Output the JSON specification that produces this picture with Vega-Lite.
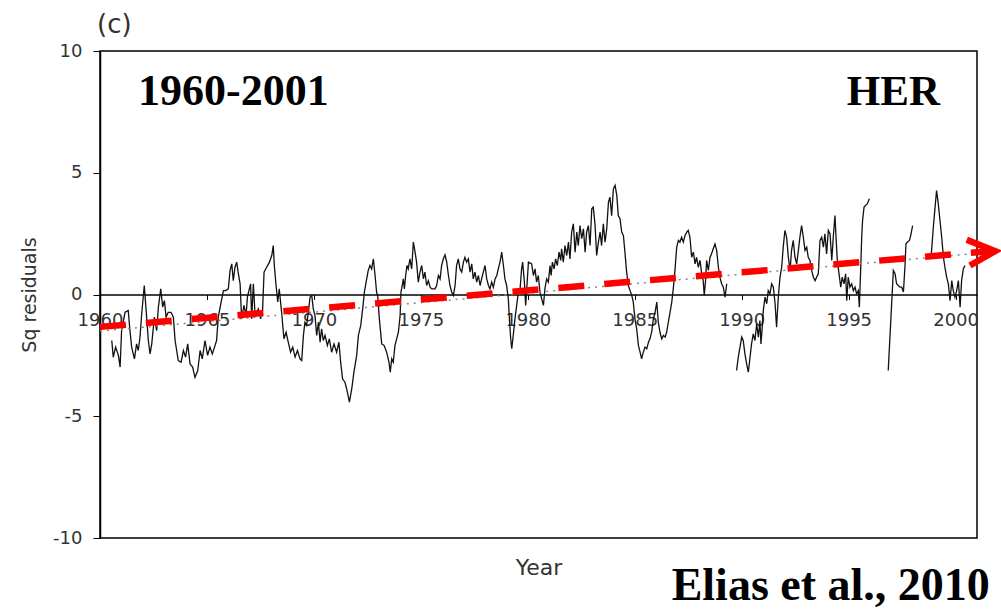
{
 "$schema": "https://vega.github.io/schema/vega-lite/v6.json",
 "width": 877, "height": 487,
 "autosize": "none",
 "padding": {"left": 100, "top": 51, "right": 24, "bottom": 72},
 "background": "white",
 "title": {"text": "(c)", "anchor": "start", "frame": "group", "offset": 4, "font": "DejaVu Sans", "fontSize": 26, "fontWeight": "normal", "color": "#333", "dx": -3},
 "config": {"view": {"stroke": "black", "strokeWidth": 1.5}, "axis": {"grid": false, "labelFont": "DejaVu Sans", "titleFont": "DejaVu Sans"}},
 "datasets": {
  "series": [
{"t":1960.55,"v":-1.89,"s":1},{"t":1960.62,"v":-2.57,"s":1},{"t":1960.73,"v":-2.16,"s":1},{"t":1960.86,"v":-2.5,"s":1},{"t":1960.94,"v":-2.98,"s":1},{"t":1961.01,"v":-1.48,"s":1},{"t":1961.17,"v":-0.73,"s":1},{"t":1961.32,"v":-0.66,"s":1},{"t":1961.40,"v":-1.48,"s":1},{"t":1961.48,"v":-2.16,"s":1},{"t":1961.61,"v":-2.64,"s":1},{"t":1961.71,"v":-2.03,"s":1},{"t":1961.79,"v":-2.3,"s":1},{"t":1961.87,"v":-1.75,"s":1},{"t":1961.95,"v":-0.79,"s":1},{"t":1962.07,"v":0.37,"s":1},{"t":1962.18,"v":-0.93,"s":1},{"t":1962.26,"v":-1.89,"s":1},{"t":1962.34,"v":-2.44,"s":1},{"t":1962.42,"v":-2.03,"s":1},{"t":1962.54,"v":-0.93,"s":1},{"t":1962.65,"v":-1.48,"s":1},{"t":1962.73,"v":-0.52,"s":1},{"t":1962.84,"v":0.23,"s":1},{"t":1962.93,"v":-0.52,"s":1},{"t":1963.01,"v":-0.25,"s":1},{"t":1963.09,"v":-0.93,"s":1},{"t":1963.19,"v":-0.73,"s":1},{"t":1963.32,"v":-0.73,"s":1},{"t":1963.43,"v":-0.93,"s":1},{"t":1963.51,"v":-1.89,"s":1},{"t":1963.66,"v":-2.71,"s":1},{"t":1963.79,"v":-2.78,"s":1},{"t":1963.90,"v":-2.3,"s":1},{"t":1964.00,"v":-2.57,"s":1},{"t":1964.10,"v":-2.03,"s":1},{"t":1964.21,"v":-2.85,"s":1},{"t":1964.33,"v":-2.98,"s":1},{"t":1964.44,"v":-3.4,"s":1},{"t":1964.57,"v":-3.12,"s":1},{"t":1964.68,"v":-2.3,"s":1},{"t":1964.78,"v":-2.64,"s":1},{"t":1964.91,"v":-1.89,"s":1},{"t":1965.03,"v":-2.5,"s":1},{"t":1965.14,"v":-2.16,"s":1},{"t":1965.25,"v":-2.44,"s":1},{"t":1965.38,"v":-2.09,"s":1},{"t":1965.45,"v":-1.89,"s":1},{"t":1965.53,"v":-0.93,"s":1},{"t":1965.66,"v":-0.32,"s":1},{"t":1965.77,"v":0.16,"s":1},{"t":1965.88,"v":0.16,"s":1},{"t":1966.00,"v":0.23,"s":1},{"t":1966.08,"v":0.99,"s":1},{"t":1966.16,"v":1.26,"s":1},{"t":1966.23,"v":0.57,"s":1},{"t":1966.31,"v":1.12,"s":1},{"t":1966.39,"v":1.33,"s":1},{"t":1966.47,"v":0.85,"s":1},{"t":1966.55,"v":0.44,"s":1},
{"t":1966.62,"v":-1.0,"s":1},{"t":1966.73,"v":-0.45,"s":1},{"t":1966.83,"v":-0.86,"s":1},{"t":1966.89,"v":-0.11,"s":1},{"t":1967.04,"v":0.44,"s":1},{"t":1967.09,"v":-1.0,"s":1},{"t":1967.17,"v":0.44,"s":1},{"t":1967.25,"v":-0.86,"s":1},{"t":1967.40,"v":-0.59,"s":1},{"t":1967.51,"v":-1.0,"s":1},{"t":1967.60,"v":-0.66,"s":1},{"t":1967.67,"v":0.92,"s":1},{"t":1967.79,"v":1.12,"s":1},{"t":1967.92,"v":1.33,"s":1},{"t":1968.03,"v":1.6,"s":1},{"t":1968.10,"v":2.01,"s":1},{"t":1968.15,"v":1.19,"s":1},{"t":1968.23,"v":0.37,"s":1},{"t":1968.31,"v":-0.31,"s":1},{"t":1968.38,"v":0.23,"s":1},{"t":1968.49,"v":-0.73,"s":1},{"t":1968.60,"v":-1.82,"s":1},{"t":1968.70,"v":-1.55,"s":1},{"t":1968.80,"v":-1.96,"s":1},{"t":1968.91,"v":-2.37,"s":1},{"t":1969.01,"v":-2.16,"s":1},{"t":1969.12,"v":-2.57,"s":1},{"t":1969.23,"v":-2.3,"s":1},{"t":1969.35,"v":-2.64,"s":1},{"t":1969.43,"v":-2.71,"s":1},{"t":1969.51,"v":-1.68,"s":1},{"t":1969.58,"v":-1.14,"s":1},{"t":1969.66,"v":-1.27,"s":1},{"t":1969.74,"v":-0.73,"s":1},{"t":1969.82,"v":-0.11,"s":1},{"t":1969.90,"v":-0.04,"s":1},{"t":1969.97,"v":-0.59,"s":1},{"t":1970.05,"v":-0.86,"s":1},{"t":1970.13,"v":-1.68,"s":1},{"t":1970.21,"v":-1.14,"s":1},{"t":1970.29,"v":-1.96,"s":1},{"t":1970.36,"v":-1.41,"s":1},{"t":1970.44,"v":-1.89,"s":1},{"t":1970.52,"v":-1.68,"s":1},{"t":1970.63,"v":-2.09,"s":1},{"t":1970.72,"v":-1.82,"s":1},{"t":1970.83,"v":-2.37,"s":1},{"t":1970.94,"v":-2.03,"s":1},{"t":1971.06,"v":-2.37,"s":1},{"t":1971.17,"v":-1.96,"s":1},{"t":1971.25,"v":-2.78,"s":1},{"t":1971.34,"v":-3.46,"s":1},{"t":1971.45,"v":-3.6,"s":1},{"t":1971.53,"v":-3.87,"s":1},{"t":1971.66,"v":-4.42,"s":1},{"t":1971.77,"v":-3.87,"s":1},{"t":1971.87,"v":-3.19,"s":1},{"t":1972.00,"v":-2.5,"s":1},{"t":1972.08,"v":-1.68,"s":1},{"t":1972.19,"v":-1.27,"s":1},{"t":1972.28,"v":-0.59,"s":1},{"t":1972.36,"v":0.1,"s":1},{"t":1972.44,"v":0.51,"s":1},{"t":1972.54,"v":0.99,"s":1},{"t":1972.62,"v":1.19,"s":1},{"t":1972.70,"v":1.05,"s":1},{"t":1972.78,"v":1.46,"s":1},{"t":1972.86,"v":0.78,"s":1},{"t":1972.93,"v":0.1,"s":1},{"t":1972.98,"v":-0.04,"s":1},{"t":1973.06,"v":-1.0,"s":1},{"t":1973.17,"v":-2.03,"s":1},{"t":1973.28,"v":-2.09,"s":1},
{"t":1973.40,"v":-2.37,"s":1},{"t":1973.51,"v":-2.78,"s":1},{"t":1973.57,"v":-3.19,"s":1},{"t":1973.64,"v":-2.64,"s":1},{"t":1973.71,"v":-2.78,"s":1},{"t":1973.79,"v":-2.09,"s":1},{"t":1973.87,"v":-1.82,"s":1},{"t":1973.95,"v":-1.55,"s":1},{"t":1974.03,"v":-0.86,"s":1},{"t":1974.07,"v":0.1,"s":1},{"t":1974.13,"v":0.37,"s":1},{"t":1974.18,"v":0.64,"s":1},{"t":1974.23,"v":0.23,"s":1},{"t":1974.29,"v":0.78,"s":1},{"t":1974.35,"v":1.19,"s":1},{"t":1974.41,"v":1.05,"s":1},{"t":1974.49,"v":1.46,"s":1},{"t":1974.57,"v":1.05,"s":1},{"t":1974.65,"v":2.15,"s":1},{"t":1974.73,"v":1.74,"s":1},{"t":1974.80,"v":1.33,"s":1},{"t":1974.88,"v":0.51,"s":1},{"t":1974.96,"v":0.92,"s":1},{"t":1975.04,"v":1.19,"s":1},{"t":1975.12,"v":0.64,"s":1},{"t":1975.19,"v":0.92,"s":1},{"t":1975.27,"v":0.37,"s":1},{"t":1975.35,"v":0.57,"s":1},{"t":1975.43,"v":0.3,"s":1},{"t":1975.51,"v":0.23,"s":1},{"t":1975.66,"v":0.23,"s":1},{"t":1975.74,"v":0.37,"s":1},{"t":1975.82,"v":0.78,"s":1},{"t":1975.90,"v":0.64,"s":1},{"t":1975.97,"v":1.19,"s":1},{"t":1976.05,"v":1.46,"s":1},{"t":1976.13,"v":1.63,"s":1},{"t":1976.21,"v":1.33,"s":1},{"t":1976.29,"v":0.78,"s":1},{"t":1976.36,"v":0.37,"s":1},{"t":1976.44,"v":0.1,"s":1},{"t":1976.52,"v":-0.04,"s":1},{"t":1976.60,"v":0.37,"s":1},{"t":1976.67,"v":1.19,"s":1},{"t":1976.75,"v":1.46,"s":1},{"t":1976.83,"v":1.05,"s":1},{"t":1976.91,"v":0.92,"s":1},{"t":1976.99,"v":1.33,"s":1},{"t":1977.06,"v":1.53,"s":1},{"t":1977.14,"v":1.33,"s":1},{"t":1977.22,"v":1.46,"s":1},{"t":1977.30,"v":0.92,"s":1},{"t":1977.38,"v":1.26,"s":1},{"t":1977.45,"v":0.64,"s":1},{"t":1977.53,"v":0.92,"s":1},{"t":1977.61,"v":0.51,"s":1},{"t":1977.69,"v":0.78,"s":1},{"t":1977.77,"v":0.37,"s":1},{"t":1977.84,"v":0.64,"s":1},{"t":1977.92,"v":0.92,"s":1},{"t":1978.00,"v":1.19,"s":1},{"t":1978.08,"v":0.64,"s":1},{"t":1978.16,"v":0.37,"s":1},{"t":1978.23,"v":0.23,"s":1},{"t":1978.31,"v":0.51,"s":1},{"t":1978.39,"v":0.3,"s":1},{"t":1978.47,"v":0.64,"s":1},{"t":1978.55,"v":0.78,"s":1},{"t":1978.62,"v":1.05,"s":1},{"t":1978.70,"v":1.33,"s":1},{"t":1978.78,"v":1.74,"s":1},{"t":1978.86,"v":1.19,"s":1},{"t":1978.93,"v":0.64,"s":1},{"t":1979.01,"v":0.37,"s":1},{"t":1979.09,"v":-0.18,"s":1},{"t":1979.14,"v":-1.0,"s":1},{"t":1979.20,"v":-1.82,"s":1},{"t":1979.25,"v":-2.23,"s":1},{"t":1979.32,"v":-1.68,"s":1},{"t":1979.40,"v":-1.0,"s":1},{"t":1979.48,"v":-0.45,"s":1},{"t":1979.56,"v":0.1,"s":1},{"t":1979.64,"v":0.23,"s":1},{"t":1979.71,"v":1.05,"s":1},{"t":1979.76,"v":1.33,"s":1},{"t":1979.84,"v":0.51,"s":1},{"t":1979.90,"v":-0.45,"s":1},{"t":1979.95,"v":0.23,"s":1},{"t":1980.03,"v":1.33,"s":1},
{"t":1980.18,"v":1.26,"s":1},{"t":1980.26,"v":0.78,"s":1},{"t":1980.34,"v":1.05,"s":1},{"t":1980.41,"v":0.51,"s":1},{"t":1980.49,"v":0.78,"s":1},{"t":1980.57,"v":0.1,"s":1},{"t":1980.65,"v":-0.18,"s":1},{"t":1980.73,"v":-0.45,"s":1},{"t":1980.80,"v":0.23,"s":1},{"t":1980.88,"v":0.64,"s":1},{"t":1980.96,"v":0.51,"s":1},{"t":1981.04,"v":1.19,"s":1},{"t":1981.09,"v":0.78,"s":1},{"t":1981.15,"v":1.33,"s":1},{"t":1981.23,"v":1.05,"s":1},{"t":1981.30,"v":1.46,"s":1},{"t":1981.38,"v":1.19,"s":1},{"t":1981.46,"v":1.74,"s":1},{"t":1981.54,"v":1.4,"s":1},{"t":1981.58,"v":1.88,"s":1},{"t":1981.66,"v":1.33,"s":1},{"t":1981.74,"v":2.01,"s":1},{"t":1981.82,"v":1.6,"s":1},{"t":1981.90,"v":2.15,"s":1},{"t":1981.97,"v":1.46,"s":1},{"t":1982.05,"v":2.56,"s":1},{"t":1982.13,"v":2.9,"s":1},{"t":1982.21,"v":1.74,"s":1},{"t":1982.29,"v":2.56,"s":1},{"t":1982.36,"v":2.01,"s":1},{"t":1982.44,"v":2.83,"s":1},{"t":1982.52,"v":2.29,"s":1},{"t":1982.60,"v":2.7,"s":1},{"t":1982.68,"v":1.74,"s":1},{"t":1982.75,"v":2.56,"s":1},{"t":1982.83,"v":2.83,"s":1},{"t":1982.91,"v":2.01,"s":1},{"t":1982.99,"v":3.52,"s":1},{"t":1983.06,"v":3.59,"s":1},{"t":1983.14,"v":2.9,"s":1},{"t":1983.22,"v":1.6,"s":1},{"t":1983.30,"v":2.15,"s":1},{"t":1983.38,"v":2.56,"s":1},{"t":1983.45,"v":2.01,"s":1},{"t":1983.53,"v":2.9,"s":1},{"t":1983.61,"v":2.15,"s":1},{"t":1983.69,"v":2.7,"s":1},{"t":1983.77,"v":3.79,"s":1},{"t":1983.84,"v":4.0,"s":1},{"t":1983.92,"v":3.24,"s":1},{"t":1984.00,"v":4.34,"s":1},{"t":1984.08,"v":4.48,"s":1},{"t":1984.16,"v":4.07,"s":1},{"t":1984.23,"v":3.24,"s":1},{"t":1984.31,"v":3.11,"s":1},{"t":1984.39,"v":2.56,"s":1},{"t":1984.47,"v":2.42,"s":1},{"t":1984.54,"v":1.74,"s":1},{"t":1984.62,"v":0.92,"s":1},{"t":1984.70,"v":0.37,"s":1},{"t":1984.78,"v":0.16,"s":1},{"t":1984.86,"v":-0.04,"s":1},{"t":1984.93,"v":-0.31,"s":1},{"t":1985.01,"v":-1.0,"s":1},{"t":1985.09,"v":-1.41,"s":1},{"t":1985.17,"v":-2.09,"s":1},{"t":1985.25,"v":-2.37,"s":1},{"t":1985.32,"v":-2.64,"s":1},{"t":1985.40,"v":-2.37,"s":1},{"t":1985.48,"v":-2.16,"s":1},{"t":1985.56,"v":-2.23,"s":1},{"t":1985.64,"v":-1.96,"s":1},{"t":1985.71,"v":-1.82,"s":1},{"t":1985.79,"v":-1.55,"s":1},{"t":1985.87,"v":-1.0,"s":1},{"t":1985.95,"v":-0.73,"s":1},{"t":1986.03,"v":-0.31,"s":1},{"t":1986.10,"v":-1.14,"s":1},{"t":1986.18,"v":-1.55,"s":1},{"t":1986.26,"v":-1.82,"s":1},{"t":1986.34,"v":-1.68,"s":1},{"t":1986.42,"v":-1.75,"s":1},{"t":1986.49,"v":-1.55,"s":1},{"t":1986.57,"v":-1.14,"s":1},{"t":1986.65,"v":-0.73,"s":1},{"t":1986.73,"v":-0.31,"s":1},{"t":1986.80,"v":0.23,"s":1},
{"t":1986.88,"v":0.99,"s":1},{"t":1986.96,"v":1.94,"s":1},{"t":1987.04,"v":2.22,"s":1},{"t":1987.11,"v":2.15,"s":1},{"t":1987.19,"v":2.35,"s":1},{"t":1987.27,"v":2.15,"s":1},{"t":1987.35,"v":2.42,"s":1},{"t":1987.43,"v":2.56,"s":1},{"t":1987.50,"v":2.63,"s":1},{"t":1987.58,"v":2.35,"s":1},{"t":1987.66,"v":1.53,"s":1},{"t":1987.74,"v":1.74,"s":1},{"t":1987.82,"v":1.26,"s":1},{"t":1987.89,"v":1.53,"s":1},{"t":1987.97,"v":1.12,"s":1},{"t":1988.05,"v":1.4,"s":1},{"t":1988.13,"v":0.85,"s":1},{"t":1988.20,"v":0.57,"s":1},{"t":1988.25,"v":-0.04,"s":1},{"t":1988.31,"v":0.57,"s":1},{"t":1988.36,"v":1.4,"s":1},{"t":1988.44,"v":0.99,"s":1},{"t":1988.52,"v":1.53,"s":1},{"t":1988.59,"v":1.67,"s":1},{"t":1988.67,"v":1.88,"s":1},{"t":1988.75,"v":2.08,"s":1},{"t":1988.83,"v":1.81,"s":1},{"t":1988.91,"v":1.12,"s":1},{"t":1988.98,"v":0.71,"s":1},{"t":1989.06,"v":0.44,"s":1},{"t":1989.14,"v":0.3,"s":1},{"t":1989.22,"v":-0.11,"s":1},{"t":1989.30,"v":0.44,"s":1},
{"t":1989.76,"v":-3.12,"s":2},{"t":1989.84,"v":-2.57,"s":2},{"t":1989.92,"v":-2.16,"s":2},{"t":1990.00,"v":-1.75,"s":2},{"t":1990.07,"v":-1.89,"s":2},{"t":1990.15,"v":-2.44,"s":2},{"t":1990.23,"v":-2.85,"s":2},{"t":1990.31,"v":-3.19,"s":2},{"t":1990.39,"v":-2.57,"s":2},{"t":1990.46,"v":-2.03,"s":2},{"t":1990.54,"v":-1.62,"s":2},{"t":1990.62,"v":-1.89,"s":2},{"t":1990.70,"v":-1.2,"s":2},{"t":1990.78,"v":-1.75,"s":2},{"t":1990.85,"v":-1.07,"s":2},{"t":1990.90,"v":-2.03,"s":2},{"t":1990.96,"v":-1.34,"s":2},{"t":1991.01,"v":-0.66,"s":2},{"t":1991.09,"v":-0.11,"s":2},{"t":1991.17,"v":-0.38,"s":2},{"t":1991.24,"v":0.16,"s":2},{"t":1991.32,"v":0.03,"s":2},{"t":1991.40,"v":0.44,"s":2},{"t":1991.48,"v":0.3,"s":2},{"t":1991.56,"v":-0.38,"s":2},{"t":1991.63,"v":-1.34,"s":2},{"t":1991.71,"v":-0.11,"s":2},{"t":1991.79,"v":0.71,"s":2},{"t":1991.87,"v":1.12,"s":2},{"t":1991.94,"v":1.94,"s":2},{"t":1992.02,"v":2.63,"s":2},{"t":1992.10,"v":2.35,"s":2},{"t":1992.18,"v":1.53,"s":2},{"t":1992.26,"v":0.99,"s":2},{"t":1992.33,"v":1.81,"s":2},{"t":1992.41,"v":2.22,"s":2},{"t":1992.49,"v":1.53,"s":2},{"t":1992.57,"v":1.26,"s":2},{"t":1992.65,"v":1.81,"s":2},{"t":1992.72,"v":2.35,"s":2},{"t":1992.80,"v":2.83,"s":2},{"t":1992.88,"v":2.35,"s":2},{"t":1992.96,"v":1.81,"s":2},{"t":1993.04,"v":1.94,"s":2},{"t":1993.11,"v":1.53,"s":2},{"t":1993.19,"v":1.4,"s":2},{"t":1993.27,"v":0.99,"s":2},{"t":1993.35,"v":0.71,"s":2},{"t":1993.43,"v":0.57,"s":2},{"t":1993.50,"v":0.71,"s":2},{"t":1993.58,"v":0.85,"s":2},
{"t":1993.66,"v":2.22,"s":2},{"t":1993.74,"v":2.35,"s":2},{"t":1993.82,"v":1.94,"s":2},{"t":1993.89,"v":2.49,"s":2},{"t":1993.97,"v":1.67,"s":2},{"t":1994.05,"v":2.63,"s":2},{"t":1994.13,"v":2.49,"s":2},{"t":1994.21,"v":1.4,"s":2},{"t":1994.28,"v":2.35,"s":2},{"t":1994.36,"v":3.24,"s":2},{"t":1994.41,"v":2.35,"s":2},{"t":1994.47,"v":1.4,"s":2},{"t":1994.55,"v":0.85,"s":2},{"t":1994.63,"v":0.3,"s":2},{"t":1994.70,"v":0.71,"s":2},{"t":1994.78,"v":0.44,"s":2},{"t":1994.86,"v":0.85,"s":2},{"t":1994.91,"v":-0.25,"s":2},{"t":1994.98,"v":0.71,"s":2},{"t":1995.06,"v":0.3,"s":2},{"t":1995.14,"v":0.44,"s":2},{"t":1995.22,"v":0.16,"s":2},{"t":1995.30,"v":0.3,"s":2},{"t":1995.37,"v":0.03,"s":2},{"t":1995.45,"v":0.16,"s":2},{"t":1995.50,"v":-0.52,"s":2},{"t":1995.56,"v":0.99,"s":2},{"t":1995.61,"v":2.35,"s":2},{"t":1995.65,"v":3.04,"s":2},{"t":1995.72,"v":3.59,"s":2},{"t":1995.79,"v":3.66,"s":2},{"t":1995.87,"v":3.72,"s":2},{"t":1995.97,"v":3.93,"s":2},
{"t":1996.85,"v":-3.12,"s":3},{"t":1996.93,"v":-1.75,"s":3},{"t":1997.01,"v":-0.38,"s":3},{"t":1997.09,"v":0.99,"s":3},{"t":1997.17,"v":0.85,"s":3},{"t":1997.24,"v":0.44,"s":3},{"t":1997.32,"v":0.37,"s":3},{"t":1997.40,"v":0.3,"s":3},{"t":1997.48,"v":0.3,"s":3},{"t":1997.56,"v":0.1,"s":3},{"t":1997.63,"v":1.12,"s":3},{"t":1997.68,"v":2.08,"s":3},{"t":1997.74,"v":2.15,"s":3},{"t":1997.84,"v":2.22,"s":3},{"t":1997.90,"v":2.42,"s":3},{"t":1997.99,"v":2.83,"s":3},
{"t":1998.85,"v":1.5,"s":4},{"t":1998.96,"v":2.77,"s":4},{"t":1999.04,"v":3.59,"s":4},{"t":1999.11,"v":4.27,"s":4},{"t":1999.19,"v":3.72,"s":4},{"t":1999.27,"v":3.04,"s":4},{"t":1999.35,"v":2.35,"s":4},{"t":1999.43,"v":1.53,"s":4},{"t":1999.50,"v":1.12,"s":4},{"t":1999.58,"v":0.71,"s":4},{"t":1999.66,"v":0.44,"s":4},{"t":1999.74,"v":-0.25,"s":4},{"t":1999.82,"v":0.57,"s":4},{"t":1999.89,"v":0.16,"s":4},{"t":1999.97,"v":-0.11,"s":4},{"t":2000.05,"v":0.16,"s":4},{"t":2000.13,"v":0.57,"s":4},{"t":2000.21,"v":-0.52,"s":4},{"t":2000.28,"v":0.57,"s":4},{"t":2000.36,"v":1.05,"s":4},{"t":2000.44,"v":1.19,"s":4}
  ],
  "trend": [{"t": 1960, "v": -1.5}, {"t": 2001, "v": 1.69}],
  "redline": [{"t": 1960, "v": -1.33}, {"t": 2001.5, "v": 1.77}],
  "chevron": [{"t": 2000.52, "v": 2.25, "o": 1}, {"t": 2001.84, "v": 1.78, "o": 2}, {"t": 2000.67, "v": 1.19, "o": 3}],
  "labelPeriod": [{"t": 1961.78, "v": 7.8, "label": "1960-2001"}],
  "labelStation": [{"t": 1999.27, "v": 7.8, "label": "HER"}],
  "labelSource": [{"t": 2001.6, "v": -12.55, "label": "Elias et al., 2010"}]
 },
 "layer": [
  {
   "data": {"name": "series"},
   "mark": {"type": "line", "color": "#111", "strokeWidth": 1.3},
   "encoding": {
    "x": {"field": "t", "type": "quantitative",
     "scale": {"domain": [1960, 2001], "nice": false, "zero": false},
     "axis": {"orient": "bottom", "offset": -243.5, "values": [1960, 1965, 1970, 1975, 1980, 1985, 1990, 1995, 2000], "format": "d", "title": null,
      "tickSize": 5, "tickColor": "black", "tickWidth": 1, "labelPadding": 12, "labelFlush": false, "labelOverlap": false, "labelBound": false,
      "domainColor": "black", "domainWidth": 1.5, "labelFontSize": 18, "labelColor": "#333"}},
    "y": {"field": "v", "type": "quantitative",
     "scale": {"domain": [-10, 10], "nice": false, "zero": false},
     "axis": {"values": [-10, -5, 0, 5, 10], "title": "Sq residuals", "titleFontSize": 19, "titleFontWeight": "normal", "titleColor": "#333", "titlePadding": 13,
      "tickSize": 7, "tickColor": "black", "labelPadding": 11, "labelFontSize": 18, "labelColor": "#333", "domainColor": "black", "domainWidth": 1.5,
      "labelExpr": "datum.value < 0 ? '-' + abs(datum.value) : '' + datum.value"}},
    "detail": {"field": "s", "type": "nominal"}
   }
  },
  {
   "data": {"name": "trend"},
   "mark": {"type": "line", "color": "#888", "strokeWidth": 1.5, "strokeDash": [2, 5]},
   "encoding": {
    "x": {"field": "t", "type": "quantitative", "axis": {"orient": "bottom", "title": "Year", "labels": false, "ticks": false, "domain": false, "titlePadding": 19, "titleFontSize": 22, "titleFontWeight": "normal", "titleColor": "#333"}},
    "y": {"field": "v", "type": "quantitative"}
   }
  },
  {
   "data": {"name": "redline"},
   "mark": {"type": "line", "color": "#ff0000", "strokeWidth": 6.5, "strokeDash": [26, 20], "strokeCap": "butt"},
   "encoding": {
    "x": {"field": "t", "type": "quantitative", "axis": null},
    "y": {"field": "v", "type": "quantitative"}
   }
  },
  {
   "data": {"name": "chevron"},
   "mark": {"type": "line", "color": "#ff0000", "strokeWidth": 6.5, "strokeJoin": "miter", "strokeCap": "butt"},
   "encoding": {
    "x": {"field": "t", "type": "quantitative", "axis": null},
    "y": {"field": "v", "type": "quantitative"},
    "order": {"field": "o", "type": "quantitative"}
   }
  },
  {
   "data": {"name": "labelPeriod"},
   "mark": {"type": "text", "align": "left", "baseline": "alphabetic", "font": "Liberation Serif", "fontWeight": "bold", "fontSize": 44, "color": "black"},
   "encoding": {
    "x": {"field": "t", "type": "quantitative", "axis": null},
    "y": {"field": "v", "type": "quantitative"},
    "text": {"field": "label"}
   }
  },
  {
   "data": {"name": "labelStation"},
   "mark": {"type": "text", "align": "right", "baseline": "alphabetic", "font": "Liberation Serif", "fontWeight": "bold", "fontSize": 43, "color": "black"},
   "encoding": {
    "x": {"field": "t", "type": "quantitative", "axis": null},
    "y": {"field": "v", "type": "quantitative"},
    "text": {"field": "label"}
   }
  },
  {
   "data": {"name": "labelSource"},
   "mark": {"type": "text", "align": "right", "baseline": "alphabetic", "font": "Liberation Serif", "fontWeight": "bold", "fontSize": 46, "color": "black"},
   "encoding": {
    "x": {"field": "t", "type": "quantitative", "axis": null},
    "y": {"field": "v", "type": "quantitative"},
    "text": {"field": "label"}
   }
  }
 ],
 "resolve": {"axis": {"x": "independent"}}
}
